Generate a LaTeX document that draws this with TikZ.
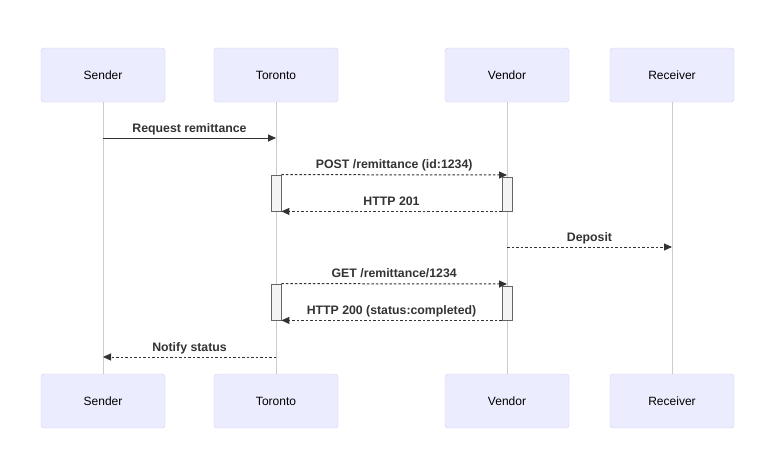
\documentclass[tikz,border=0pt]{standalone}
\usepackage{fontspec}
\setmainfont{Liberation Sans}
\usetikzlibrary{arrows.meta}
\usepackage{xcolor}
\definecolor{caixa}{HTML}{ECECFF}
\definecolor{borda}{HTML}{D4CCF2}
\definecolor{linha}{HTML}{CCCCCC}
\definecolor{texto}{HTML}{333333}
\definecolor{ativo}{HTML}{F4F4F4}

\begin{document}
\begin{tikzpicture}[x = 1pt, y = -1pt,
	ator/.style = {draw = borda, fill = caixa, rounded corners = 3pt, minimum width = 124pt, minimum height = 54pt, inner sep = 0pt, text = black, font = \fontsize{12}{14}\selectfont},
	vida/.style = {draw = linha, line width = 0.8pt},
	msg/.style = {draw = texto, line width = 1pt, -{Triangle[length = 8pt, width = 7pt]}},
	resp/.style = {msg, dash pattern = on 2.5pt off 2pt},
	rotulo/.style = {text = texto, font = \fontsize{12.3}{14}\selectfont\bfseries, anchor = base, yshift = 6pt, inner sep = 0pt, midway},
	ativ/.style = {draw = black!60, fill = ativo, minimum width = 10pt, inner sep = 0pt, line width = 0.8pt}]

	\useasboundingbox (0, 0) rectangle (784, 469);

	% Atores
	\node[ator] (senderT)   at (103, 75) {Sender};
	\node[ator] (torontoT)  at (276, 75) {Toronto};
	\node[ator] (vendorT)   at (507, 75) {Vendor};
	\node[ator] (receiverT) at (672, 75) {Receiver};

	\node[ator] (senderB)   at (103, 401) {Sender};
	\node[ator] (torontoB)  at (276, 401) {Toronto};
	\node[ator] (vendorB)   at (507, 401) {Vendor};
	\node[ator] (receiverB) at (672, 401) {Receiver};

	% Linhas de vida
	\draw[vida] (senderT)   -- (senderB);
	\draw[vida] (torontoT)  -- (torontoB);
	\draw[vida] (vendorT)   -- (vendorB);
	\draw[vida] (receiverT) -- (receiverB);

	% Ativações
	\node[ativ, minimum height = 36pt] (tAtiv1) at (276, 193) {};
	\node[ativ, minimum height = 34pt] (vAtiv1) at (507, 194) {};
	\node[ativ, minimum height = 36pt] (tAtiv2) at (276, 302) {};
	\node[ativ, minimum height = 34pt] (vAtiv2) at (507, 303) {};

	% Pontos nas linhas
	\coordinate (s1) at (103, 138);
	\coordinate (t1) at (276, 138);
	\coordinate (v1) at (507, 175);
	\coordinate (v2) at (507, 247);
	\coordinate (r2) at (672, 247);
	\coordinate (v3) at (507, 284);
	\coordinate (t4) at (276, 357);
	\coordinate (s4) at (103, 357);

	% Mensagens
	\draw[msg]  (s1) -- (t1) node[rotulo] {Request remittance};
	\draw[resp] (tAtiv1.north east) -- (v1) node[rotulo] {POST /remittance (id:1234)};
	\draw[resp] (vAtiv1.south west) -- (tAtiv1.south east) node[rotulo] {HTTP 201};
	\draw[resp] (v2) -- (r2) node[rotulo] {Deposit};
	\draw[resp] (tAtiv2.north east) -- (v3) node[rotulo] {GET /remittance/1234};
	\draw[resp] (vAtiv2.south west) -- (tAtiv2.south east) node[rotulo] {HTTP 200 (status:completed)};
	\draw[resp] (t4) -- (s4) node[rotulo] {Notify status};

\end{tikzpicture}
\end{document}
